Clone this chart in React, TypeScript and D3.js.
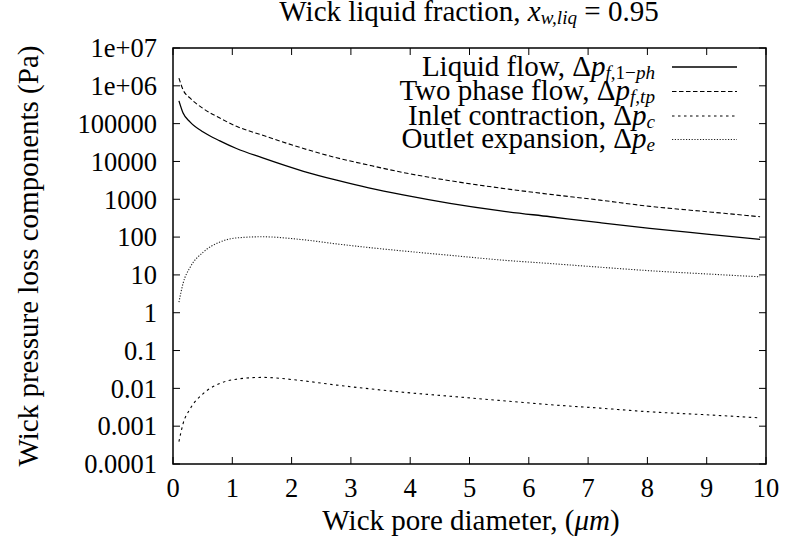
import React from "react";
import * as d3 from "d3";

const diameter = [0.1, 0.17, 0.29, 0.51, 0.79, 1.07, 1.5, 2.2, 2.76, 3.3, 3.88, 4.67, 5.5, 6.36, 7.2, 8.04, 9.0, 9.9];
const liquidFlow = [4.0e5, 1.9e5, 1.1e5, 6.0e4, 3.5e4, 2.2e4, 1.26e4, 5500, 3200, 2000, 1300, 780, 500, 345, 240, 170, 120, 87];
const twoPhaseFlow = [1.6e6, 7.8e5, 4.7e5, 2.5e5, 1.4e5, 8.5e4, 5.0e4, 2.2e4, 1.25e4, 8000, 5100, 3100, 2000, 1350, 950, 650, 470, 345];
const inletContraction = [3.9e-4, 1.17e-3, 2.9e-3, 7.3e-3, 0.0135, 0.0175, 0.0195, 0.0158, 0.0122, 0.0098, 0.0079, 0.0062, 0.0048, 0.0037, 0.003, 0.0024, 0.002, 0.00166];
const outletExpansion = [1.9, 6, 16, 40, 74, 95, 102, 85, 66, 53, 43, 33, 25, 20, 16, 12.9, 10.6, 8.9];

const xTicks = [0, 1, 2, 3, 4, 5, 6, 7, 8, 9, 10];
const yTicks = [1e7, 1e6, 1e5, 1e4, 1e3, 100, 10, 1, 0.1, 0.01, 0.001, 0.0001];
const yTickLabels = ["1e+07", "1e+06", "100000", "10000", "1000", "100", "10", "1", "0.1", "0.01", "0.001", "0.0001"];

const W = 788, H = 545;
const L = 173, R = 766, T = 48, B = 464;
const FONT = '"Liberation Serif", "DejaVu Serif", serif';
const FS = 29;
const FS_TICK = 26.5;

export default function App() {
  const x = d3.scaleLinear().domain([0, 10]).range([L, R]);
  const y = d3.scaleLog().domain([1e-4, 1e7]).range([B, T]);
  const line = d3
    .line<[number, number]>()
    .x((d) => x(d[0]))
    .y((d) => y(d[1]))
    .curve(d3.curveMonotoneX);
  const mk = (vals: number[]) => line(diameter.map((d, i) => [d, vals[i]] as [number, number])) || "";

  const series = [
    { vals: liquidFlow, dash: undefined, width: 1.3, color: "#000" },
    { vals: twoPhaseFlow, dash: "4.5,2.5", width: 1.1, color: "#000" },
    { vals: inletContraction, dash: "2.5,3.5", width: 1.1, color: "#000" },
    { vals: outletExpansion, dash: "1.2,1.6", width: 1.1, color: "#222" },
  ];

  const legendY = [67, 91.5, 116, 139.5];
  const tick = 7;
  const sub = { fontSize: FS * 0.66 } as const;
  const txt = { fontFamily: FONT, fontSize: FS } as const;
  const tickTxt = { fontFamily: FONT, fontSize: FS_TICK } as const;

  const legendTexts = [
    <>
      Liquid flow, Δ<tspan fontStyle="italic">p</tspan>
      <tspan baselineShift="-16%" style={sub}>
        <tspan fontStyle="italic">f</tspan>,1−<tspan fontStyle="italic">ph</tspan>
      </tspan>
    </>,
    <>
      Two phase flow, Δ<tspan fontStyle="italic">p</tspan>
      <tspan baselineShift="-16%" style={sub} fontStyle="italic">f,tp</tspan>
    </>,
    <>
      Inlet contraction, Δ<tspan fontStyle="italic">p</tspan>
      <tspan baselineShift="-16%" style={sub} fontStyle="italic">c</tspan>
    </>,
    <>
      Outlet expansion, Δ<tspan fontStyle="italic">p</tspan>
      <tspan baselineShift="-16%" style={sub} fontStyle="italic">e</tspan>
    </>,
  ];

  return (
    <svg width={W} height={H} style={{ position: "absolute", left: 0, top: 0, background: "#fff", fontFamily: FONT }}>
      <rect x={0} y={0} width={W} height={H} fill="#fff" />
      {/* title */}
      <text x={469} y={21} fill="#000" textAnchor="middle" style={txt}>
        Wick liquid fraction, <tspan fontStyle="italic">x</tspan>
        <tspan baselineShift="-16%" style={sub} fontStyle="italic">w,liq</tspan>
        <tspan> = 0.95</tspan>
      </text>

      {/* ticks */}
      {xTicks.map((t) => (
        <g key={"xt" + t}>
          <line x1={x(t)} x2={x(t)} y1={B} y2={B - tick} stroke="#000" strokeWidth={1} />
          <line x1={x(t)} x2={x(t)} y1={T} y2={T + tick} stroke="#000" strokeWidth={1} />
          <text x={x(t)} y={497} textAnchor="middle" style={tickTxt}>{t}</text>
        </g>
      ))}
      {yTicks.map((t, i) => (
        <g key={"yt" + i}>
          <line x1={L} x2={L + tick} y1={y(t)} y2={y(t)} stroke="#000" strokeWidth={1} />
          <line x1={R} x2={R - tick} y1={y(t)} y2={y(t)} stroke="#000" strokeWidth={1} />
          <text x={157} y={y(t)} dy="0.35em" textAnchor="end" style={tickTxt}>{yTickLabels[i]}</text>
        </g>
      ))}

      {/* curves */}
      {series.map((s, i) => (
        <path key={"s" + i} d={mk(s.vals)} fill="none" stroke={s.color} strokeWidth={s.width} strokeDasharray={s.dash} />
      ))}

      {/* legend */}
      {series.map((s, i) => (
        <g key={"lg" + i}>
          <text x={655} y={legendY[i]} dy="0.3em" textAnchor="end" style={txt}>{legendTexts[i]}</text>
          <line x1={672} x2={737} y1={legendY[i]} y2={legendY[i]} stroke={s.color} strokeWidth={s.width} strokeDasharray={s.dash} />
        </g>
      ))}

      {/* frame */}
      <rect x={L} y={T} width={R - L} height={B - T} fill="none" stroke="#000" strokeWidth={1.5} />

      {/* axis labels */}
      <text x={471} y={530} textAnchor="middle" style={txt}>
        Wick pore diameter, (<tspan fontStyle="italic">μm</tspan>)
      </text>
      <text transform={`translate(38, 256) rotate(-90)`} textAnchor="middle" style={txt}>
        Wick pressure loss components (Pa)
      </text>
    </svg>
  );
}
